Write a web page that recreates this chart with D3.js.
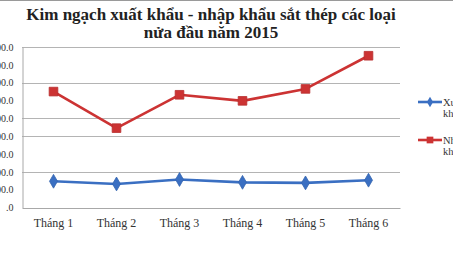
<!DOCTYPE html>
<html>
<head>
<meta charset="utf-8">
<script src="https://cdn.jsdelivr.net/npm/d3@7"></script>
<style>
  body { margin: 0; background: #fff; overflow: hidden; }
  svg { display: block; font-family: "Liberation Serif", "DejaVu Serif", serif; }
</style>
</head>
<body>
<svg id="chart"></svg>
<script>
// data (values, probably million USD)
const months = ["Tháng 1", "Tháng 2", "Tháng 3", "Tháng 4", "Tháng 5", "Tháng 6"];
const exportVals = [147, 132, 157, 141, 138, 153];
const importVals = [650, 445, 632, 598, 665, 851];
const yTicks = [0, 100, 200, 300, 400, 500, 600, 700, 800, 900];
const gridVals = [200, 400, 500, 700, 900];
const titleLines = ["Kim ngạch xuất khẩu - nhập khẩu sắt thép các loại", "nửa đầu năm 2015"];
const seriesNames = [["Xuất", "khẩu"], ["Nhập", "khẩu"]];

const width = 453, height = 255;
const margin_left = 22, margin_right = 53, margin_top = 47, margin_bottom = 47;

const svg = d3.select("#chart")
    .attr("width", width)
    .attr("height", height);

const x = d3.scaleBand(months, [margin_left, width - margin_right]);
const y = d3.scaleLinear([0, 900], [height - margin_bottom - 0.5, margin_top]);

// thin frame line along the top edge
svg.append("line")
    .attr("x1", 0).attr("x2", width)
    .attr("y1", 0.5).attr("y2", 0.5)
    .attr("stroke", "#9a9a9a");

// title
svg.append("g")
    .selectAll("text")
    .data(titleLines)
    .join("text")
    .attr("x", 211)
    .attr("y", (d, i) => 20 + i * 18)
    .attr("text-anchor", "middle")
    .attr("font-size", 17)
    .attr("font-weight", "bold")
    .attr("fill", "#222")
    .text(d => d);

// gridlines
svg.append("g")
    .selectAll("line")
    .data(gridVals)
    .join("line")
    .attr("x1", margin_left)
    .attr("x2", width - margin_right)
    .attr("y1", d => Math.round(y(d)) + 0.5)
    .attr("y2", d => Math.round(y(d)) + 0.5)
    .attr("stroke", "#b4b4b4");

// y axis
svg.append("g")
    .attr("transform", `translate(${margin_left + 0.5}, 0)`)
    .call(d3.axisLeft(y)
        .tickValues(yTicks)
        .tickSize(0)
        .tickPadding(9)
        .tickFormat(d => d === 0 ? ".0" : d3.format(".1f")(d)))
    .call(g => g.select(".domain").attr("stroke", "#a8a8a8"))
    .call(g => g.selectAll("text")
        .attr("font-family", "Liberation Serif, serif")
        .attr("font-size", 10)
        .attr("fill", "#333"));

// x axis
svg.append("g")
    .attr("transform", `translate(0, ${height - margin_bottom})`)
    .call(d3.axisBottom(x).tickSize(0).tickPadding(10))
    .call(g => g.select(".domain").attr("stroke", "#a8a8a8"))
    .call(g => g.selectAll("text")
        .attr("font-family", "Liberation Serif, serif")
        .attr("font-size", 12)
        .attr("fill", "#333"));

const line = d3.line()
    .x((d, i) => x(months[i]) + x.bandwidth() / 2)
    .y(d => y(d));

const series = [
    { vals: exportVals, colour: "#3a6fc2", marker: d3.symbolDiamond, size: 55 },
    { vals: importVals, colour: "#cc3333", marker: d3.symbolSquare, size: 75 }
];

series.forEach(s => {
    const g = svg.append("g");
    g.append("path")
        .datum(s.vals)
        .attr("d", line)
        .attr("fill", "none")
        .attr("stroke", s.colour)
        .attr("stroke-width", 2.6)
        .attr("stroke-linejoin", "round");
    g.selectAll("path.pt")
        .data(s.vals)
        .join("path")
        .attr("class", "pt")
        .attr("transform", (d, i) => `translate(${x(months[i]) + x.bandwidth() / 2}, ${y(d)})`)
        .attr("d", d3.symbol(s.marker, s.size))
        .attr("fill", s.colour)
        .attr("stroke", d3.color(s.colour).darker(0.3))
        .attr("stroke-width", 0.8);
});

// legend, clipped at the right edge as in the picture
const legend = svg.append("g")
    .selectAll("g")
    .data(series)
    .join("g")
    .attr("transform", (d, i) => `translate(418, ${102 + i * 38})`);

legend.append("line")
    .attr("x1", 0).attr("x2", 24)
    .attr("stroke", d => d.colour)
    .attr("stroke-width", 2.6);
legend.append("path")
    .attr("transform", "translate(12,0)")
    .attr("d", d => d3.symbol(d.marker, d.size * 0.6)())
    .attr("fill", d => d.colour);
legend.append("text")
    .attr("y", 4)
    .attr("font-size", 10.5)
    .attr("fill", "#333")
    .selectAll("tspan")
    .data((d, i) => seriesNames[i])
    .join("tspan")
    .attr("x", (t, j) => j === 0 ? 25 : 25)
    .attr("dy", (t, j) => j === 0 ? 0 : 11)
    .text(t => t);
</script>
</body>
</html>
